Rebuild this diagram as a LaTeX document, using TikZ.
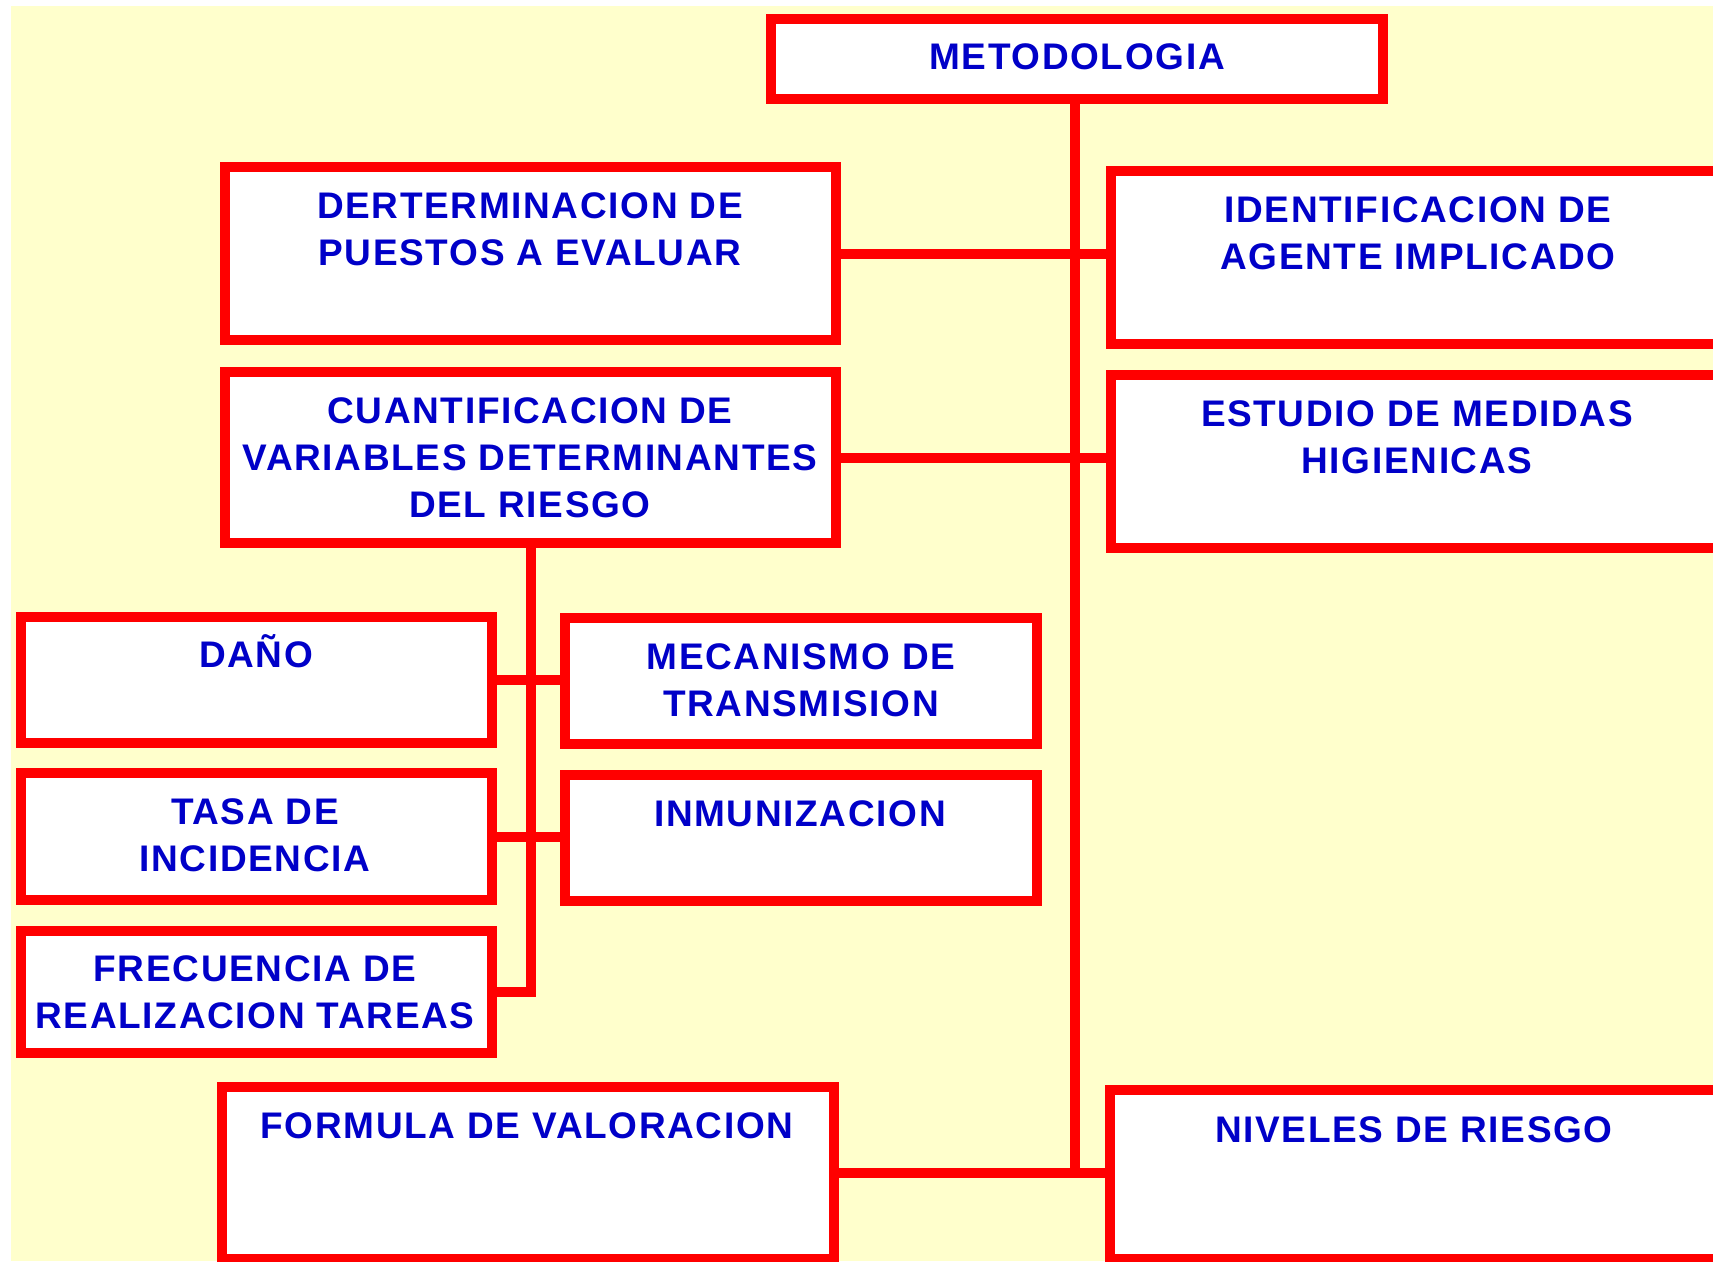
\documentclass[tikz,border=0pt]{standalone}
\usepackage{fontspec}
\newfontfamily\boxfont{Liberation Sans}[LetterSpace=4.5]
\definecolor{bg}{RGB}{255,255,204}
\definecolor{rd}{RGB}{255,0,0}
\definecolor{tx}{RGB}{0,0,200}
\begin{document}
\begin{tikzpicture}[x=1pt,y=-1pt,
  box/.style={draw=rd, fill=white, line width=10pt, inner sep=0pt, line join=miter},
  txt/.style={text=tx, font=\boxfont\bfseries\fontsize{37}{47}\selectfont, align=center, inner sep=0pt},
  conn/.style={draw=rd, line width=10pt, line join=miter}]
\useasboundingbox (0,0) rectangle (1713,1261);
\clip (0,0) rectangle (1713,1261);
\fill[white] (0,0) rectangle (1713,1261);
\fill[bg] (11,6) rectangle (1713,1261);

% boxes
\node[box, minimum width=612, minimum height=80]  (met) at (1077,59) {};
\node[box, minimum width=611, minimum height=173] (der) at (530.5,253.5) {};
\node[box, minimum width=612, minimum height=173] (ide) at (1417,257.5) {};
\node[box, minimum width=611, minimum height=171] (cua) at (530.5,457.5) {};
\node[box, minimum width=612, minimum height=173] (est) at (1417,461.5) {};
\node[box, minimum width=471, minimum height=126] (dan) at (256.5,680) {};
\node[box, minimum width=472, minimum height=126] (mec) at (801,681) {};
\node[box, minimum width=471, minimum height=127] (tas) at (256.5,836.5) {};
\node[box, minimum width=472, minimum height=126] (inm) at (801,838) {};
\node[box, minimum width=471, minimum height=122] (fre) at (256.5,992) {};
\node[box, minimum width=612, minimum height=172] (for) at (528,1173) {};
\node[box, minimum width=613, minimum height=169] (niv) at (1416.5,1174.5) {};

% connectors
\coordinate (mtop) at (1075,99);
\draw[conn] (mtop) -- (mtop |- for.east);
\draw[conn] (der.east) -- (ide.west |- der.east);
\draw[conn] (cua.east) -- (est.west |- cua.east);
\draw[conn] (for.east) -- (niv.west |- for.east);
\draw[conn] (cua.south) -- (cua.south |- fre.east) -- (fre.east);
\draw[conn] (dan.east) -- (mec.west |- dan.east);
\draw[conn] (tas.east) -- (inm.west |- tas.east);

% texts
\node[txt] (tmet) at (1077,57) {METODOLOGIA};
\node[txt] (tder) at (530,229.5) {DERTERMINACION DE\\PUESTOS A EVALUAR};
\node[txt] (tide) at (1418,233.5) {IDENTIFICACION DE\\AGENTE IMPLICADO};
\node[txt] (tcua) at (530,458) {CUANTIFICACION DE\\VARIABLES DETERMINANTES\\DEL RIESGO};
\node[txt] (test) at (1417,437.5) {ESTUDIO DE MEDIDAS\\HIGIENICAS};
\node[txt, anchor=base] (tdan) at (256,667) {DAÑO};
\node[txt] (tmec) at (801,680.5) {MECANISMO DE\\TRANSMISION};
\node[txt] (ttas) at (255,835.5) {TASA DE\\INCIDENCIA};
\node[txt] (tinm) at (800,814) {INMUNIZACION};
\node[txt] (tfre) at (255,992.5) {FRECUENCIA DE\\REALIZACION TAREAS};
\node[txt] (tfor) at (527,1126) {FORMULA DE VALORACION};
\node[txt] (tniv) at (1414,1130) {NIVELES DE RIESGO};
\end{tikzpicture}
\end{document}
